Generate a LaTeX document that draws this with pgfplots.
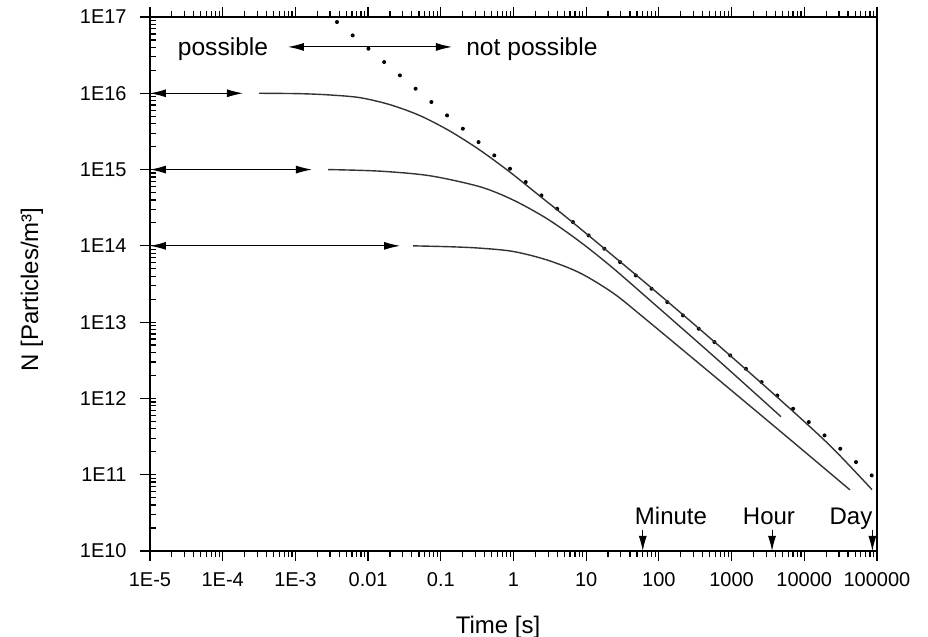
\documentclass[border=0pt]{standalone}
\usepackage{fontspec}
\setmainfont{Liberation Sans}
\usepackage{pgfplots}
\pgfplotsset{compat=1.18}
\usetikzlibrary{arrows.meta}
\begin{document}
\begin{tikzpicture}[
  dbl/.style={line width=0.5pt, {Latex[length=8pt,width=4pt]}-{Latex[length=8pt,width=4pt]}},
  sgl/.style={line width=0.5pt, -{Latex[length=7.5pt,width=4pt]}}]
\begin{axis}[
  at={(0,0)}, anchor=south west,
  scale only axis, width=363.5pt, height=267pt,
  xmode=log, ymode=log,
  xmin=1e-5, xmax=1e5, ymin=1e10, ymax=1e17,
  xtick={1e-5,1e-4,1e-3,1e-2,1e-1,1,10,100,1000,10000,100000},
  xticklabels={1E-5,1E-4,1E-3,0.01,0.1,1,10,100,1000,10000,100000},
  ytick={1e10,1e11,1e12,1e13,1e14,1e15,1e16,1e17},
  yticklabels={1E10,1E11,1E12,1E13,1E14,1E15,1E16,1E17},
  xtick pos=both, ytick pos=left,
  tick align=outside,
  major tick length=5pt, minor tick length=3pt,
  tick style={line width=0.6pt, black},
  every minor y tick/.append style={xshift=3pt},
  axis line style={line width=0.9pt},
  xticklabel style={font=\fontsize{10}{12}\selectfont, anchor=base, yshift=-13pt},
  yticklabel style={font=\fontsize{10}{12}\selectfont, anchor=east, inner xsep=0pt, xshift=-6.5pt},
  xlabel={Time [s]}, ylabel={N [Particles/m³]},
  xlabel style={font=\fontsize{12}{14}\selectfont, at={(axis description cs:0.4787,-0.1536)}, anchor=base},
  ylabel style={font=\fontsize{12}{14}\selectfont, at={(axis description cs:-0.1623,0.4897)}, anchor=center},
  clip=false,
]
% dotted asymptote
\addplot[black, line width=2pt, line cap=round, dash pattern=on 0.01pt off 10.3pt, dash phase=6.4pt]
  coordinates {(3.09e-3,1e17) (1e5,8.55e10)};
% N0 = 1E16
\addplot[black!80, line width=0.7pt, smooth, tension=0.5] coordinates {
 (3.16e-4,1.0e16) (1.157e-3,9.88e15) (2.99e-3,9.50e15) (7.74e-3,8.76e15)
 (0.0200,7.09e15) (0.0518,5.09e15) (0.1338,3.19e15) (0.346,1.796e15)
 (0.895,9.25e14) (2.315,4.48e14) (6.58,2.016e14) (29.2,6.21e13)
 (103.5,2.26e13) (692,4.77e12) (4630,9.64e11) (22560,2.41e11) (85340,6.38e10)};
% N0 = 1E15
\addplot[black!80, line width=0.7pt, smooth, tension=0.5] coordinates {
 (2.81e-3,1.0e15) (0.01458,9.53e14) (0.0710,8.29e14) (0.346,5.95e14)
 (0.984,4.00e14) (2.89,2.27e14) (8.22,1.131e14) (23.4,5.10e13)
 (103.5,1.485e13) (692,3.02e12) (4780,5.76e11)};
% N0 = 1E14
\addplot[black!80, line width=0.7pt, smooth, tension=0.5] coordinates {
 (0.0415,1.0e14) (0.1338,9.73e13) (0.346,9.33e13) (0.984,8.45e13)
 (2.89,6.53e13) (8.22,4.41e13) (23.4,2.41e13) (60.4,1.17e13)
 (692,1.696e12) (5780,3.13e11) (42510,6.32e10)};
% arrows
\draw[dbl] (axis cs:1e-5,1e16) -- (axis cs:1.9e-4,1e16);
\draw[dbl] (axis cs:1e-5,1e15) -- (axis cs:1.69e-3,1e15);
\draw[dbl] (axis cs:1e-5,1e14) -- (axis cs:0.0275,1e14);
\draw[dbl] (axis cs:7.9e-4,4.05e16) -- (axis cs:0.1425,4.05e16);
\draw[sgl] (axis cs:60,1.9e10) -- (axis cs:60,1e10);
\draw[sgl] (axis cs:3600,1.9e10) -- (axis cs:3600,1e10);
\draw[sgl] (axis cs:86400,1.9e10) -- (axis cs:86400,1e10);
% texts
\node[anchor=base, font=\fontsize{12.3}{14}\selectfont, inner sep=0pt] at (rel axis cs:0.1004,0.9288) {possible};
\node[anchor=base, font=\fontsize{12.3}{14}\selectfont, inner sep=0pt] at (rel axis cs:0.5254,0.9288) {not possible};
\node[anchor=base, font=\fontsize{12}{14}\selectfont, inner sep=0pt] at (rel axis cs:0.7166,0.0487) {Minute};
\node[anchor=base, font=\fontsize{12}{14}\selectfont, inner sep=0pt] at (rel axis cs:0.8514,0.0487) {Hour};
\node[anchor=base, font=\fontsize{12}{14}\selectfont, inner sep=0pt] at (rel axis cs:0.9642,0.0487) {Day};
\end{axis}
\pgfresetboundingbox
\path (-75pt,-43pt) rectangle (389pt,275.5pt);
\end{tikzpicture}
\end{document}
